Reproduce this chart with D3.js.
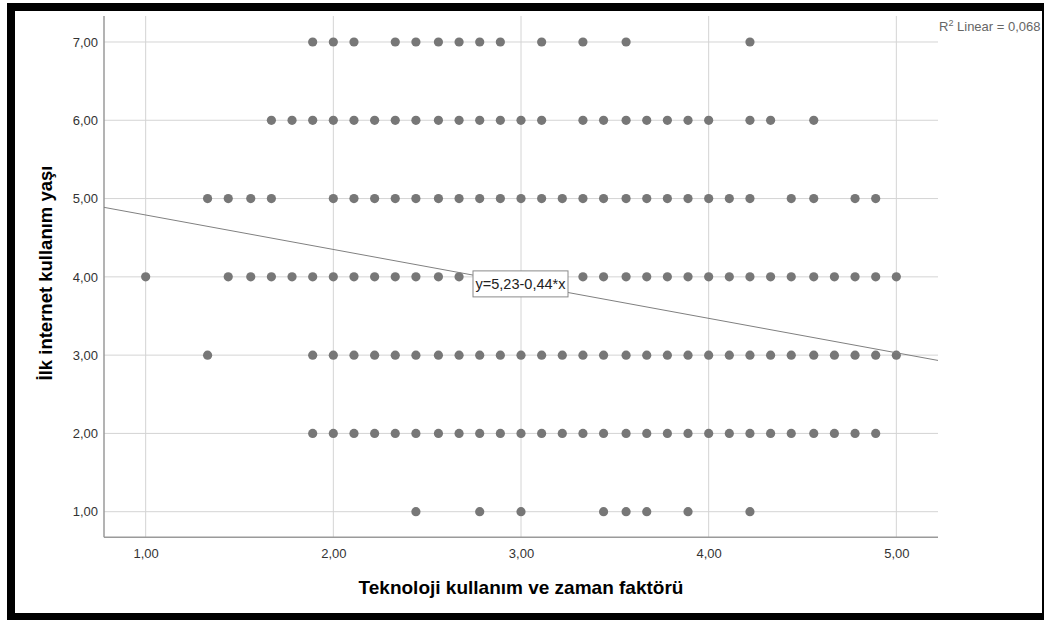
<!DOCTYPE html>
<html>
<head>
<meta charset="utf-8">
<script src="https://cdn.jsdelivr.net/npm/d3@7"></script>
<style>
  body { margin: 0; background: #fff; }
  text { font-family: "Liberation Sans", Arial, sans-serif; }
</style>
</head>
<body>
<div id="chart"></div>
<script>
// x values of the points on each y level
const row7 = [1.89, 2.00, 2.11, 2.33, 2.44, 2.56, 2.67, 2.78, 2.89, 3.11, 3.33, 3.56, 4.22];
const row6 = [1.67, 1.78, 1.89, 2.00, 2.11, 2.22, 2.33, 2.44, 2.56, 2.67, 2.78, 2.89, 3.00, 3.11,
  3.33, 3.44, 3.56, 3.67, 3.78, 3.89, 4.00, 4.22, 4.33, 4.56];
const row5 = [1.33, 1.44, 1.56, 1.67, 2.00, 2.11, 2.22, 2.33, 2.44, 2.56, 2.67, 2.78, 2.89, 3.00,
  3.11, 3.22, 3.33, 3.44, 3.56, 3.67, 3.78, 3.89, 4.00, 4.11, 4.22, 4.44, 4.56, 4.78, 4.89];
const row4 = [1.00, 1.44, 1.56, 1.67, 1.78, 1.89, 2.00, 2.11, 2.22, 2.33, 2.44, 2.56, 2.67, 2.78,
  2.89, 3.00, 3.11, 3.22, 3.33, 3.44, 3.56, 3.67, 3.78, 3.89, 4.00, 4.11, 4.22, 4.33, 4.44, 4.56,
  4.67, 4.78, 4.89, 5.00];
const row3 = [1.33, 1.89, 2.00, 2.11, 2.22, 2.33, 2.44, 2.56, 2.67, 2.78, 2.89, 3.00, 3.11, 3.22,
  3.33, 3.44, 3.56, 3.67, 3.78, 3.89, 4.00, 4.11, 4.22, 4.33, 4.44, 4.56, 4.67, 4.78, 4.89, 5.00];
const row2 = [1.89, 2.00, 2.11, 2.22, 2.33, 2.44, 2.56, 2.67, 2.78, 2.89, 3.00, 3.11, 3.22, 3.33,
  3.44, 3.56, 3.67, 3.78, 3.89, 4.00, 4.11, 4.22, 4.33, 4.44, 4.56, 4.67, 4.78, 4.89];
const row1 = [2.44, 2.78, 3.00, 3.44, 3.56, 3.67, 3.89, 4.22];

const yLevels = [7, 6, 5, 4, 3, 2, 1];
const rows = [row7, row6, row5, row4, row3, row2, row1];

const xTicks = [1, 2, 3, 4, 5];
const yTicks = [1, 2, 3, 4, 5, 6, 7];

const fitIntercept = 5.23;
const fitSlope = -0.44;
const fitLabel = "y=5,23-0,44*x";
const r2Value = "0,068";

const xTitle = "Teknoloji kullanım ve zaman faktörü";
const yTitle = "İlk internet kullanım yaşı";

const width = 1044, height = 620;
const plot = { left: 104, top: 16, right: 938, bottom: 537.3 };

const points = [];
rows.forEach((r, i) => r.forEach(x => points.push({ x: x, y: yLevels[i] })));

const comma = d3.formatLocale({ decimal: ",", thousands: ".", grouping: [3], currency: ["", ""] }).format(".2f");

const x = d3.scaleLinear().domain([0.778, 5.222]).range([plot.left, plot.right]);
const y = d3.scaleLinear().domain([0.673, 7.332]).range([plot.bottom, plot.top]);

const svg = d3.select("#chart").append("svg")
  .attr("width", width)
  .attr("height", height);

svg.append("rect").attr("width", width).attr("height", height).attr("fill", "#fff");

// gridlines
svg.append("g")
  .selectAll("line")
  .data(yTicks)
  .enter().append("line")
  .attr("x1", plot.left).attr("x2", plot.right)
  .attr("y1", d => y(d)).attr("y2", d => y(d))
  .attr("stroke", "#d4d4d4").attr("stroke-width", 1);

svg.append("g")
  .selectAll("line")
  .data(xTicks)
  .enter().append("line")
  .attr("x1", d => x(d)).attr("x2", d => x(d))
  .attr("y1", plot.top).attr("y2", plot.bottom)
  .attr("stroke", "#d4d4d4").attr("stroke-width", 1);

// axes
const yAxisG = svg.append("g")
  .attr("transform", `translate(${plot.left},0)`)
  .call(d3.axisLeft(y).tickValues(yTicks).tickFormat(comma).tickSize(0).tickPadding(6));
const xAxisG = svg.append("g")
  .attr("transform", `translate(0,${plot.bottom})`)
  .call(d3.axisBottom(x).tickValues(xTicks).tickFormat(comma).tickSize(0).tickPadding(11));

[yAxisG, xAxisG].forEach(g => {
  g.select(".domain").remove();
  g.selectAll("text")
    .attr("fill", "#333")
    .style("font-size", "13px")
    .style("font-family", "'Liberation Sans', Arial, sans-serif");
});

svg.append("line")
  .attr("x1", plot.left).attr("x2", plot.left)
  .attr("y1", plot.top).attr("y2", plot.bottom)
  .attr("stroke", "#9a9a9a").attr("stroke-width", 1.5);
svg.append("line")
  .attr("x1", plot.left).attr("x2", plot.right)
  .attr("y1", plot.bottom).attr("y2", plot.bottom)
  .attr("stroke", "#9a9a9a").attr("stroke-width", 1.5);

// points
svg.append("g")
  .selectAll("circle")
  .data(points)
  .enter().append("circle")
  .attr("cx", d => x(d.x))
  .attr("cy", d => y(d.y))
  .attr("r", 4.6)
  .attr("fill", "#777");

// fit line
const xd = x.domain();
svg.append("line")
  .attr("x1", x(xd[0])).attr("y1", y(fitIntercept + fitSlope * xd[0]))
  .attr("x2", x(xd[1])).attr("y2", y(fitIntercept + fitSlope * xd[1]))
  .attr("stroke", "#808080").attr("stroke-width", 1);

// fit label box, centred on the line at the middle of the x range
const midX = (xd[0] + xd[1]) / 2;
const lab = svg.append("g")
  .attr("transform", `translate(${x(midX)},${y(fitIntercept + fitSlope * midX)})`);
lab.append("rect")
  .attr("x", -48).attr("y", -13).attr("width", 95).attr("height", 26)
  .attr("fill", "#fff").attr("stroke", "#8a8a8a").attr("stroke-width", 1);
lab.append("text")
  .attr("text-anchor", "middle")
  .attr("x", -0.5)
  .attr("y", 5.5)
  .attr("fill", "#222")
  .style("font-size", "14.5px")
  .text(fitLabel);

// R2 note
const r2 = svg.append("text")
  .attr("x", plot.right + 1)
  .attr("y", 31)
  .attr("fill", "#666")
  .style("font-size", "13px");
r2.append("tspan").text("R");
r2.append("tspan").attr("dy", -5).style("font-size", "9px").text("2");
r2.append("tspan").attr("dy", 5).text(" Linear = " + r2Value);

// axis titles
svg.append("text")
  .attr("x", 521)
  .attr("y", 594)
  .attr("text-anchor", "middle")
  .attr("fill", "#000")
  .style("font-size", "19px")
  .style("font-weight", "bold")
  .text(xTitle);

svg.append("text")
  .attr("transform", "translate(52,273) rotate(-90)")
  .attr("text-anchor", "middle")
  .attr("fill", "#000")
  .style("font-size", "18.5px")
  .style("font-weight", "bold")
  .text(yTitle);

// black frame
svg.append("rect")
  .attr("x", 11).attr("y", 7)
  .attr("width", 1035).attr("height", 610)
  .attr("fill", "none")
  .attr("stroke", "#000")
  .attr("stroke-width", 8);
</script>
</body>
</html>
